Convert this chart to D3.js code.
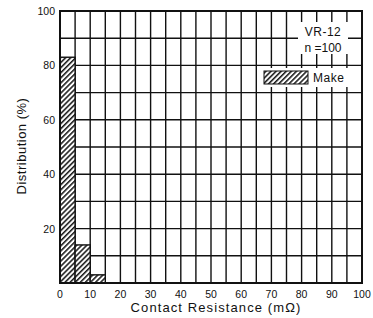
<!DOCTYPE html>
<html lang="en">
<head>
<meta charset="utf-8">
<title>Contact Resistance Distribution</title>
<script src="https://cdn.jsdelivr.net/npm/d3@7"></script>
<style>
  body { margin: 0; background: #fff; }
  text { font-family: "Liberation Sans", Arial, sans-serif; fill: #111; }
</style>
</head>
<body>
<script>
// bins of contact resistance (mOhm) and distribution (%)
var binStart = [0, 5, 10];
var binEnd = [5, 10, 15];
var distribution = [83, 14, 3];
var xTicks = [0, 10, 20, 30, 40, 50, 60, 70, 80, 90, 100];
var yTicks = [20, 40, 60, 80, 100];

var width = 373, height = 318;
var margin = {left: 60, right: 11, top: 11, bottom: 35};

var svg = d3.select("body").append("svg")
  .attr("width", width)
  .attr("height", height);

var x = d3.scaleLinear().domain([0, 100]).range([margin.left, width - margin.right]);
var y = d3.scaleLinear().domain([0, 100]).range([height - margin.bottom, margin.top]);

// hatch pattern
var defs = svg.append("defs");
var pat = defs.append("pattern")
  .attr("id", "hatch")
  .attr("patternUnits", "userSpaceOnUse")
  .attr("width", 3.6).attr("height", 3.6)
  .attr("patternTransform", "rotate(45)");
pat.append("rect").attr("width", 3.6).attr("height", 3.6).attr("fill", "#fff");
pat.append("line")
  .attr("x1", 0.8).attr("y1", 0).attr("x2", 0.8).attr("y2", 3.6)
  .attr("stroke", "#000").attr("stroke-width", 1.4);

// grid lines
var vGrid = d3.range(5, 100, 5);
var hGrid = d3.range(10, 100, 10);
svg.selectAll(".vg").data(vGrid).enter().append("line")
  .attr("x1", function(d) { return x(d); })
  .attr("x2", function(d) { return x(d); })
  .attr("y1", y(0)).attr("y2", y(100))
  .attr("stroke", "#111").attr("stroke-width", 1.4);
svg.selectAll(".hg").data(hGrid).enter().append("line")
  .attr("x1", x(0)).attr("x2", x(100))
  .attr("y1", function(d) { return y(d); })
  .attr("y2", function(d) { return y(d); })
  .attr("stroke", "#111").attr("stroke-width", 1.4);

// bars
svg.selectAll(".bar").data(distribution).enter().append("rect")
  .attr("x", function(d, i) { return x(binStart[i]); })
  .attr("width", function(d, i) { return x(binEnd[i]) - x(binStart[i]); })
  .attr("y", function(d) { return y(d); })
  .attr("height", function(d) { return y(0) - y(d); })
  .attr("fill", "url(#hatch)")
  .attr("stroke", "#111").attr("stroke-width", 1.4);

// annotation boxes
svg.append("rect").attr("x", 298).attr("y", 22).attr("width", 50).attr("height", 32).attr("fill", "#fff");
svg.append("text").attr("x", 323).attr("y", 36).attr("text-anchor", "middle")
  .attr("font-size", 12).attr("letter-spacing", 0.5).text("VR-12");
svg.append("text").attr("x", 323).attr("y", 52).attr("text-anchor", "middle")
  .attr("font-size", 12).text("n =100");

svg.append("rect").attr("x", 260).attr("y", 68).attr("width", 96).attr("height", 19).attr("fill", "#fff");
svg.append("rect").attr("x", 264).attr("y", 71).attr("width", 44).attr("height", 13)
  .attr("fill", "url(#hatch)").attr("stroke", "#111").attr("stroke-width", 1);
svg.append("text").attr("x", 313).attr("y", 82).attr("font-size", 12).attr("letter-spacing", 0.5).text("Make");

// frame
svg.append("rect")
  .attr("x", x(0)).attr("y", y(100))
  .attr("width", x(100) - x(0)).attr("height", y(0) - y(100))
  .attr("fill", "none").attr("stroke", "#111").attr("stroke-width", 2);

// axes labels
svg.selectAll(".xt").data(xTicks).enter().append("text")
  .attr("x", function(d) { return x(d); })
  .attr("y", y(0) + 15)
  .attr("text-anchor", "middle")
  .attr("font-size", 10.5)
  .text(function(d) { return d; });
svg.selectAll(".yt").data(yTicks).enter().append("text")
  .attr("x", x(0) - 5)
  .attr("y", function(d) { return y(d) + 4; })
  .attr("text-anchor", "end")
  .attr("font-size", 10.5)
  .text(function(d) { return d; });

svg.append("text")
  .attr("x", 216).attr("y", 312)
  .attr("text-anchor", "middle")
  .attr("font-size", 13)
  .attr("letter-spacing", 1.1)
  .text("Contact Resistance (m\u03A9)");
svg.append("text")
  .attr("transform", "translate(26,146) rotate(-90)")
  .attr("text-anchor", "middle")
  .attr("font-size", 13)
  .attr("letter-spacing", 0.5)
  .text("Distribution (%)");
</script>
</body>
</html>
